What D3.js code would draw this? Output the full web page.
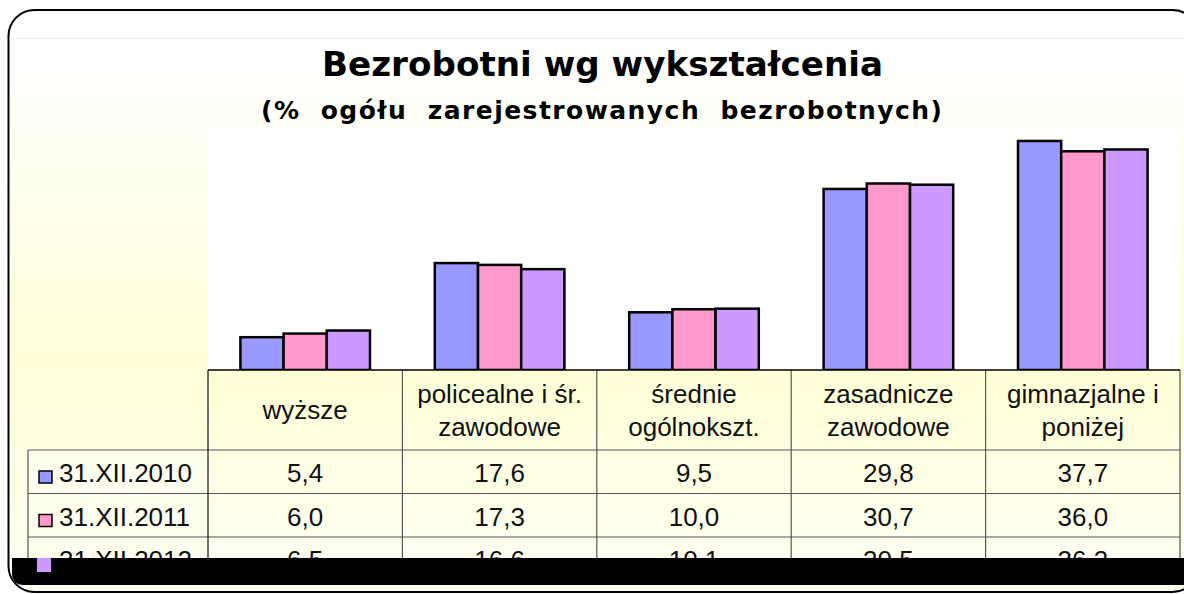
<!DOCTYPE html>
<html>
<head>
  <meta charset="utf-8">
  <script src="https://d3js.org/d3.v7.min.js"></script>
  <style type="text/css">
    body { margin: 0; background: #fff; }
    .title { font-family: "DejaVu Sans", Verdana, sans-serif; font-weight: bold; white-space: pre; }
    .cell { font-family: "Liberation Sans", Arial, sans-serif; font-size: 26px; fill: #111; }
  </style>
</head>
<body>
<script type="text/javascript">
  //Data
  var categories = ["wyższe", "policealne i śr.\nzawodowe", "średnie\nogólnokszt.", "zasadnicze\nzawodowe", "gimnazjalne i\nponiżej"];
  var seriesNames = ["31.XII.2010", "31.XII.2011", "31.XII.2012"];
  var values2010 = [5.4, 17.6, 9.5, 29.8, 37.7];
  var values2011 = [6.0, 17.3, 10.0, 30.7, 36.0];
  var values2012 = [6.5, 16.6, 10.1, 30.5, 36.3];
  var colors = ["#9999ff", "#ff99cc", "#cc99ff"];
  var yTicks = [0, 40];

  function draw() {
    var width = 1184, height = 594;
    var plotLeft = 208, plotRight = 1180, plotTop = 127, baseY = 370;
    var headerBottom = 450, rowHeight = 43.5, legendLeft = 28;

    var series = [values2010, values2011, values2012];

    var svg = d3.select("body").append("svg")
        .attr("width", width)
        .attr("height", height);

    //Background gradient
    var defs = svg.append("defs");
    var bg = defs.append("linearGradient").attr("id", "bg")
        .attr("x1", 0).attr("y1", 0).attr("x2", 0).attr("y2", 1);
    bg.append("stop").attr("offset", "0%").attr("stop-color", "#ffffff");
    bg.append("stop").attr("offset", "8%").attr("stop-color", "#ffffff");
    bg.append("stop").attr("offset", "60%").attr("stop-color", "#ffffd8");
    bg.append("stop").attr("offset", "100%").attr("stop-color", "#fffff4");

    var tb = defs.append("linearGradient").attr("id", "tb")
        .attr("x1", 0).attr("y1", 0).attr("x2", 0).attr("y2", 1);
    tb.append("stop").attr("offset", "0%").attr("stop-color", "#ffffd6");
    tb.append("stop").attr("offset", "100%").attr("stop-color", "#fffff2");

    //Outer frame
    svg.append("rect")
        .attr("x", 8.5).attr("y", 10).attr("width", 1190).attr("height", 582)
        .attr("rx", 26).attr("ry", 26)
        .attr("fill", "url(#bg)")
        .attr("stroke", "#000").attr("stroke-width", 2);

    svg.append("line")
        .attr("x1", 17).attr("x2", width).attr("y1", 38.5).attr("y2", 38.5)
        .attr("stroke", "#ececec").attr("stroke-width", 1);

    //Titles
    svg.append("text")
        .attr("class", "title")
        .attr("x", 322).attr("y", 76)
        .attr("textLength", 561)
        .attr("lengthAdjust", "spacingAndGlyphs")
        .style("font-size", "33px")
        .text("Bezrobotni wg wykształcenia");

    svg.append("text")
        .attr("class", "title")
        .attr("x", 261).attr("y", 119)
        .attr("textLength", 681)
        .attr("lengthAdjust", "spacing")
        .style("font-size", "25px")
        .text("(%  ogółu  zarejestrowanych  bezrobotnych)");

    //Scales
    var x = d3.scaleBand()
        .domain(d3.range(categories.length))
        .range([plotLeft, plotRight])
        .paddingInner(1 / 3)
        .paddingOuter(1 / 6);

    var xs = d3.scaleBand()
        .domain(d3.range(seriesNames.length))
        .range([0, x.bandwidth()]);

    var y = d3.scaleLinear()
        .domain(d3.extent(yTicks))
        .range([baseY, plotTop]);

    //Plot area
    svg.append("rect")
        .attr("x", plotLeft).attr("y", plotTop)
        .attr("width", plotRight - plotLeft).attr("height", baseY - plotTop)
        .attr("fill", "#fff");

    //Bars
    series.forEach(function(vals, s) {
      svg.append("g").selectAll("rect")
          .data(vals)
          .enter().append("rect")
          .attr("x", function(d, i) { return x(i) + xs(s); })
          .attr("y", function(d) { return y(d); })
          .attr("width", xs.bandwidth())
          .attr("height", function(d) { return y(0) - y(d); })
          .attr("fill", colors[s])
          .attr("stroke", "#000")
          .attr("stroke-width", 2.5);
    });

    //Data table
    var colStep = x.step();
    var tableBottom = 558;

    svg.append("rect")
        .attr("x", plotLeft).attr("y", baseY)
        .attr("width", plotRight - plotLeft).attr("height", tableBottom - baseY)
        .attr("fill", "url(#tb)");
    svg.append("rect")
        .attr("x", legendLeft).attr("y", headerBottom)
        .attr("width", plotLeft - legendLeft).attr("height", tableBottom - headerBottom)
        .attr("fill", "#fffff0");

    var grid = svg.append("g").attr("stroke", "#555").attr("stroke-width", 1.2);

    // horizontal lines
    grid.append("line")
        .attr("x1", legendLeft).attr("x2", plotRight)
        .attr("y1", headerBottom).attr("y2", headerBottom);
    [1, 2].forEach(function(r) {
      grid.append("line")
          .attr("x1", legendLeft).attr("x2", plotRight)
          .attr("y1", headerBottom + r * rowHeight).attr("y2", headerBottom + r * rowHeight);
    });

    // vertical lines
    grid.append("line")
        .attr("x1", legendLeft).attr("x2", legendLeft)
        .attr("y1", headerBottom).attr("y2", tableBottom);
    d3.range(categories.length + 1).forEach(function(c) {
      var xx = plotLeft + c * colStep;
      grid.append("line")
          .attr("x1", xx).attr("x2", xx)
          .attr("y1", baseY).attr("y2", tableBottom)
          .attr("stroke", c === 0 ? "#111" : "#555");
    });

    svg.append("line")
        .attr("x1", plotLeft).attr("x2", plotRight)
        .attr("y1", baseY).attr("y2", baseY)
        .attr("stroke", "#000").attr("stroke-width", 1.5);

    // category header
    categories.forEach(function(c, i) {
      var lines = c.split("\n");
      var cx = x(i) + x.bandwidth() / 2;
      var cy = (baseY + headerBottom) / 2;
      var lh = 33;
      var t = svg.append("text")
          .attr("class", "cell")
          .attr("text-anchor", "middle");
      lines.forEach(function(l, k) {
        t.append("tspan")
            .attr("x", cx)
            .attr("y", cy + 9 + (k - (lines.length - 1) / 2) * lh)
            .text(l);
      });
    });

    // series rows
    var fmt = function(v) { return d3.format(".1f")(v).replace(".", ","); };
    series.forEach(function(vals, s) {
      var rowY = headerBottom + s * rowHeight;
      svg.append("text")
          .attr("class", "cell")
          .attr("x", 59).attr("y", rowY + 32)
          .text(seriesNames[s]);
      vals.forEach(function(v, i) {
        svg.append("text")
            .attr("class", "cell")
            .attr("text-anchor", "middle")
            .attr("x", x(i) + x.bandwidth() / 2)
            .attr("y", rowY + 32)
            .text(fmt(v));
      });
    });

    //Black band covering the bottom
    svg.append("path")
        .attr("d", "M12,558 H" + width + " V585 H24 Q12,585 12,573 Z")
        .attr("fill", "#000");

    // legend keys sit above the band (last one pokes through it)
    series.forEach(function(vals, s) {
      var rowY = headerBottom + s * rowHeight;
      svg.append("rect")
          .attr("x", s === 2 ? 37 : 39).attr("y", rowY + 21)
          .attr("width", s === 2 ? 14 : 13).attr("height", s === 2 ? 14 : 12)
          .attr("fill", colors[s])
          .attr("stroke", s === 2 ? "none" : "#000").attr("stroke-width", 1.5);
    });
  }

  draw();
</script>
</body>
</html>
